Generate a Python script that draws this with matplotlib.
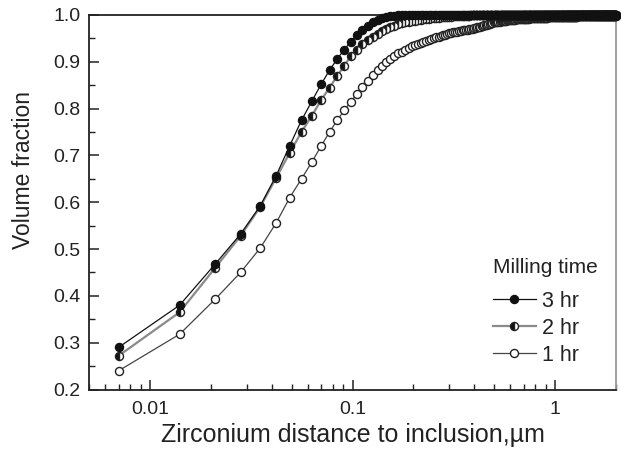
import matplotlib
matplotlib.use("Agg")
import matplotlib.pyplot as plt
from matplotlib.ticker import FixedLocator, NullFormatter, FuncFormatter, MultipleLocator

plt.rcParams['font.family'] = ['Liberation Sans', 'DejaVu Sans']

# Distance bins (µm): uniform step of 0.007 µm
step = 0.007
n_points = 285
distance = [round(step * (i + 1), 3) for i in range(n_points)]

# Cumulative volume fraction, 3 hr milling
vf_3hr = ([0.290, 0.380, 0.468, 0.532, 0.592, 0.657, 0.721, 0.775, 0.816, 0.852,
           0.882, 0.906, 0.926, 0.943, 0.957, 0.968, 0.977, 0.984, 0.989, 0.993,
           0.995, 0.997, 0.998, 0.999]
          + [1.0] * 261)

# Cumulative volume fraction, 2 hr milling
vf_2hr = ([0.272, 0.365, 0.460, 0.528, 0.590, 0.652, 0.706, 0.750, 0.785, 0.818,
           0.845, 0.870, 0.892, 0.912, 0.926, 0.937, 0.946, 0.953, 0.960, 0.966,
           0.970, 0.974, 0.977, 0.980, 0.982, 0.984, 0.986, 0.987, 0.988, 0.989,
           0.990, 0.991, 0.992, 0.992, 0.993, 0.993, 0.994, 0.994, 0.995, 0.995,
           0.995, 0.996, 0.996, 0.996, 0.997, 0.997, 0.997, 0.997, 0.998, 0.998,
           0.998, 0.998, 0.998, 0.998, 0.999, 0.999, 0.999]
          + [0.999] * 14
          + [1.0] * 214)

# Cumulative volume fraction, 1 hr milling
vf_1hr = ([0.240, 0.318, 0.393, 0.450, 0.502, 0.556, 0.610, 0.650, 0.686, 0.720,
           0.750, 0.775, 0.796, 0.815, 0.831, 0.846, 0.859, 0.871, 0.882, 0.892,
           0.900, 0.907, 0.913, 0.918, 0.922, 0.926, 0.930, 0.933, 0.936, 0.939,
           0.941, 0.943, 0.945, 0.947, 0.949, 0.951, 0.953, 0.954, 0.956, 0.957,
           0.958, 0.960, 0.961,
           0.962, 0.963, 0.964, 0.964, 0.965, 0.966, 0.967, 0.967, 0.968, 0.969,
           0.970, 0.970, 0.971, 0.972,
           0.973, 0.974, 0.974, 0.975, 0.976, 0.977, 0.978, 0.978, 0.979, 0.980,
           0.981, 0.982, 0.983, 0.984,
           0.984, 0.985, 0.985, 0.986, 0.986, 0.987, 0.987, 0.987, 0.988, 0.988,
           0.988, 0.989, 0.989, 0.989, 0.989, 0.990, 0.990, 0.990, 0.990, 0.990,
           0.991, 0.991, 0.991, 0.991, 0.991, 0.992, 0.992, 0.992, 0.992]
          + [0.992] * 6 + [0.993] * 12 + [0.994] * 13 + [0.995] * 12
          + [0.995] * 10 + [0.996] * 30 + [0.997] * 31
          + [0.997] * 30 + [0.998] * 41)

series_labels = ["3 hr", "2 hr", "1 hr"]
x_ticks = [0.01, 0.1, 1]
x_tick_labels = ["0.01", "0.1", "1"]
y_ticks = [0.2, 0.3, 0.4, 0.5, 0.6, 0.7, 0.8, 0.9, 1.0]

fig = plt.figure(figsize=(6.21, 4.57), dpi=100)
ax = fig.add_axes([0.1433, 0.1477, 0.8487, 0.8195])

ms = 5.8
l1, = ax.plot(distance, vf_1hr, color='#444444', lw=0.9, marker='o', ms=ms,
              mfc='white', mec='#222222', mew=1.0, zorder=3, clip_on=False)
l2, = ax.plot(distance, vf_2hr, color='#8a8a8a', lw=1.6, marker='o', ms=ms,
              fillstyle='left', mfc='#111111', mfcalt='white', mec='#222222',
              mew=1.0, zorder=4, clip_on=False)
l3, = ax.plot(distance, vf_3hr, color='#111111', lw=0.9, marker='o', ms=ms,
              mfc='#111111', mec='#111111', mew=1.0, zorder=5, clip_on=False)

ax.set_xscale('log')
ax.set_xlim(0.005, 2.0)
ax.set_ylim(0.2, 1.0)

ax.xaxis.set_major_locator(FixedLocator(x_ticks))
ax.xaxis.set_major_formatter(FuncFormatter(
    lambda v, p: dict(zip(x_ticks, x_tick_labels)).get(round(v, 3), "")))
minor = [m * 10.0 ** e for e in (-3, -2, -1, 0) for m in range(2, 10)]
ax.xaxis.set_minor_locator(FixedLocator(minor))
ax.xaxis.set_minor_formatter(NullFormatter())

ax.yaxis.set_major_locator(FixedLocator(y_ticks))
ax.yaxis.set_major_formatter(FuncFormatter(lambda v, p: f"{v:.1f}"))
ax.yaxis.set_minor_locator(MultipleLocator(0.05))

ax.tick_params(which='both', direction='in', top=False, right=False,
               labelsize=14, colors='#222222')
ax.tick_params(which='major', length=7, width=1.1)
ax.tick_params(which='minor', length=4.5, width=1.0)
ax.tick_params(axis='x', pad=8)
ax.tick_params(axis='y', pad=6)

for side in ('left', 'bottom', 'top'):
    ax.spines[side].set_color('#222222')
    ax.spines[side].set_linewidth(1.3)
ax.spines['right'].set_color('#999999')
ax.spines['right'].set_linewidth(1.3)

ax.set_xlabel("Zirconium distance to inclusion,\u00b5m", fontsize=18,
              color='#222222', labelpad=4)
ax.set_ylabel("Volume fraction", fontsize=16.5, color='#222222')
ax.yaxis.set_label_coords(-0.102, 0.585)

leg = ax.legend([l3, l2, l1], series_labels, title="Milling time",
                loc='upper right', bbox_to_anchor=(0.985, 0.380),
                frameon=False, fontsize=15.5, title_fontsize=15,
                handlelength=2.0, handletextpad=0.3, labelspacing=0.28,
                borderpad=0.0, alignment='left', markerscale=1.0)
leg._legend_box.sep = 10
for t in leg.get_texts():
    t.set_color('#222222')
leg.get_title().set_color('#222222')

fig.savefig("out.png", dpi=100)
